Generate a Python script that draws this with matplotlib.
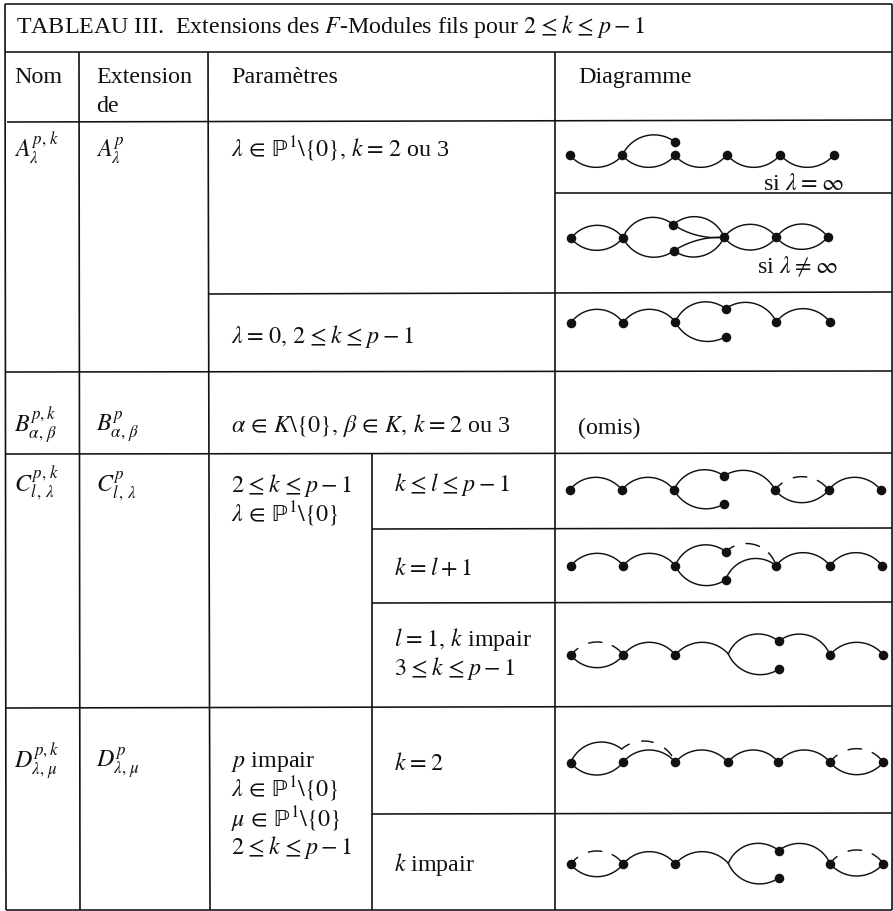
import numpy as np
import matplotlib
matplotlib.use("Agg")
import matplotlib.pyplot as plt

plt.rcParams['font.family'] = ['Liberation Serif', 'DejaVu Serif']
plt.rcParams['mathtext.fontset'] = 'stix'

INK = '#111111'
FS = 17.3
PP = r"\mathrm{\mathbb{P}}^{1}\backslash\{0\}"
HAIR = r"\hspace{0.07}"
LE = HAIR + r"\leq" + HAIR
IN = r"\,\in\,"
EQ = HAIR + "=" + HAIR
MINUS1 = r"p-1"

# --- table rules: (x0, y0, x1, y1)
H_RULES = [(5, 4, 892, 4), (5, 52, 892, 52), (7, 122, 892, 120), (208, 294, 892, 292),
           (555, 193, 892, 193), (5, 372, 892, 371), (5, 454, 892, 453),
           (372, 529, 892, 528), (372, 603, 892, 602), (5, 708, 892, 706),
           (372, 814, 892, 813), (6, 910, 892, 910)]
V_RULES = [(5, 4, 6, 910), (892, 4, 892, 910), (79, 52, 80, 910), (208, 52, 210, 910),
           (372, 454, 372, 910), (555, 52, 555, 910)]

# --- texts: (x, baseline y, string)
TEXTS = [
    (16, 33, rf"TABLEAU III.  Extensions des $F$-Modules fils pour $2{LE}k{LE}{MINUS1}$"),
    (14, 83, "Nom"), (96, 83, "Extension"), (96, 112, "de"),
    (231, 83, "Paramètres"), (578, 83, "Diagramme"),
    (14, 157, r"$A_{\lambda}^{p,\,k}$"), (96, 157, r"$A_{\lambda}^{p}$"),
    (231, 157, rf"$\lambda{IN}{PP},\, k{EQ}2$ ou 3"),
    (231, 343, rf"$\lambda{EQ}0,\, 2{LE}k{LE}{MINUS1}$"),
    (14, 432, r"$B_{\alpha,\,\beta}^{p,k}$"), (96, 432, r"$B_{\alpha,\,\beta}^{p}$"),
    (231, 432, rf"$\alpha{IN}K\backslash\{{0\}},\, \beta{IN}K,\, k{EQ}2$ ou 3"),
    (578, 434, "(omis)"),
    (14, 492, r"$C_{l\,,\,\lambda}^{p,\,k}$"), (96, 492, r"$C_{l\,,\,\lambda}^{p}$"),
    (231, 492, rf"$2{LE}k{LE}{MINUS1}$"),
    (231, 522, rf"$\lambda{IN}{PP}$"),
    (394, 491, rf"$k{LE}l{LE}{MINUS1}$"),
    (394, 575, rf"$k{EQ}l+1$"),
    (394, 646, rf"$l{EQ}1,\, k$ impair"),
    (394, 675, rf"$3{LE}k{LE}{MINUS1}$"),
    (14, 768, r"$D_{\lambda,\,\mu}^{p,k}$"), (96, 768, r"$D_{\lambda,\,\mu}^{p}$"),
    (231, 767, r"$p$ impair"),
    (231, 797, rf"$\lambda{IN}{PP}$"),
    (231, 827, rf"$\mu{IN}{PP}$"),
    (231, 854, rf"$2{LE}k{LE}{MINUS1}$"),
    (394, 770, rf"$k{EQ}2$"),
    (394, 871, r"$k$ impair"),
    (763, 190, rf"si $\lambda{EQ}\infty$"),
    (757, 273, rf"si $\lambda{HAIR}\neq{HAIR}\infty$"),
]

# --- diagrams, read at 3x scale from an origin (ox, oy)
# arcs: (x0, y0, xmid, ymid, x1, y1, dash windows or None)
D = [(0.05, 0.16), (0.36, 0.58), (0.76, 0.95)]

D1 = dict(origin=(520, 110),
          nodes=[(150,136),(307,136),(465,136),(621,134),(781,134),(942,134),(465,96)],
          arcs=[(150,136,228,172,307,136,None),(307,136,388,172,465,136,None),
                (465,136,543,172,621,134,None),(621,134,700,172,781,134,None),
                (781,134,862,172,942,134,None),(307,136,385,76,465,96,None)])
D2 = dict(origin=(520, 110),
          nodes=[(153,385),(309,383),(460,344),(462,422),(612,382),(769,382),(923,381)],
          arcs=[(153,385,230,346,309,383,None),(153,385,230,421,309,383,None),
                (309,383,385,323,460,344,None),(309,383,390,441,462,422,None),
                (460,344,525,320,612,382,None),(460,344,525,374,612,382,None),
                (462,422,525,441,612,382,None),(462,422,525,393,612,382,None),
                (612,382,690,343,769,382,None),(612,382,690,420,769,382,None),
                (769,382,846,342,923,381,None),(769,382,846,418,923,381,None)])
D3 = dict(origin=(520, 110),
          nodes=[(153,638),(309,638),(466,636),(617,596),(617,680),(769,636),(930,637)],
          arcs=[(153,638,230,598,309,638,None),(309,638,387,598,466,636,None),
                (466,636,535,578,617,596,None),(466,636,540,692,617,680,None),
                (617,596,690,578,769,636,None),(769,636,850,596,930,637,None)])
D4 = dict(origin=(520, 470),
          nodes=[(149,60),(306,60),(462,60),(612,18),(612,102),(765,60),(926,60),(1082,60)],
          arcs=[(149,60,228,22,306,60,None),(306,60,384,22,462,60,None),
                (462,60,535,1,612,18,None),(462,60,535,114,612,102,None),
                (612,18,690,3,765,60,None),(765,60,845,98,926,60,None),
                (765,60,845,20,926,60,D),(926,60,1005,22,1082,60,None)])
D5 = dict(origin=(520, 470),
          nodes=[(153,287),(310,287),(466,287),(617,245),(617,329),(768,287),(930,287),(1086,287)],
          arcs=[(153,287,232,250,310,287,None),(310,287,388,250,466,287,None),
                (466,287,540,226,617,245,None),(466,287,540,345,617,329,None),
                (617,329,690,267,768,287,None),(617,245,695,222,768,287,D),
                (768,287,848,248,930,287,None),(930,287,1008,248,1086,287,None)])
D6 = dict(origin=(520, 470),
          nodes=[(153,556),(310,555),(466,555),(776,514),(776,598),(930,555),(1090,555)],
          arcs=[(153,556,232,593,310,555,None),(153,556,232,516,310,555,D),
                (310,555,385,517,466,555,None),(466,555,545,517,625,552,None),
                (625,552,695,494,776,514,None),(625,552,700,612,776,598,None),
                (776,514,850,493,930,555,None),(930,555,1010,517,1090,555,None)])
D7 = dict(origin=(520, 700),
          nodes=[(152,188),(309,187),(466,187),(624,187),(775,187),(930,187),(1090,187)],
          arcs=[(152,188,230,225,309,187,None),(152,188,225,128,305,147,None),
                (305,147,385,124,466,187,[(0.0,0.14),(0.34,0.52),(0.72,0.88)]),
                (309,187,388,150,466,187,None),(466,187,545,150,624,187,None),
                (624,187,700,150,775,187,None),(775,187,853,150,930,187,None),
                (930,187,1010,224,1090,187,None),(930,187,1010,146,1090,187,D)])
D8 = dict(origin=(520, 700),
          nodes=[(152,493),(310,492),(466,492),(776,452),(776,534),(930,491),(1090,491)],
          arcs=[(152,493,230,530,310,492,None),(152,493,230,453,310,492,D),
                (310,492,388,455,466,492,None),(466,492,545,455,625,490,None),
                (625,490,695,432,776,452,None),(625,490,700,550,776,534,None),
                (776,452,850,431,930,491,None),(930,491,1010,528,1090,491,None),
                (930,491,1010,450,1090,491,D)])
DIAGRAMS = [D1, D2, D3, D4, D5, D6, D7, D8]


def circle_arc(p0, m, p1, t0=0.0, t1=1.0, n=40):
    """Points on the circle through p0, m and p1, for a fraction range of the sweep."""
    ax_, ay_ = p0
    bx, by = m
    cx, cy = p1
    d = 2 * (ax_ * (by - cy) + bx * (cy - ay_) + cx * (ay_ - by))
    ux = ((ax_**2 + ay_**2) * (by - cy) + (bx**2 + by**2) * (cy - ay_) + (cx**2 + cy**2) * (ay_ - by)) / d
    uy = ((ax_**2 + ay_**2) * (cx - bx) + (bx**2 + by**2) * (ax_ - cx) + (cx**2 + cy**2) * (bx - ax_)) / d
    r = np.hypot(ax_ - ux, ay_ - uy)
    a0 = np.arctan2(ay_ - uy, ax_ - ux)
    am = np.arctan2(by - uy, bx - ux)
    a1 = np.arctan2(cy - uy, cx - ux)
    ccw = (am - a0) % (2 * np.pi) < (a1 - a0) % (2 * np.pi)
    sweep = (a1 - a0) % (2 * np.pi) if ccw else -((a0 - a1) % (2 * np.pi))
    t = np.linspace(t0, t1, n)
    ang = a0 + sweep * t
    return np.column_stack([ux + r * np.cos(ang), uy + r * np.sin(ang)])


fig = plt.figure(figsize=(8.93, 9.11), dpi=100, facecolor='white')
ax = fig.add_axes([0, 0, 1, 1])
ax.set_xlim(0, 893)
ax.set_ylim(911, 0)
ax.axis('off')

for x0, y0, x1, y1 in H_RULES:
    ax.plot([x0, x1], [y0, y1], color=INK, lw=1.15, solid_capstyle='butt')
for x0, y0, x1, y1 in V_RULES:
    ax.plot([x0, x1], [y0, y1], color=INK, lw=1.2, solid_capstyle='butt')

for x, y, s in TEXTS:
    ax.text(x, y, s, fontsize=FS, color=INK, ha='left', va='baseline')

for d in DIAGRAMS:
    ox, oy = d['origin']
    to_px = lambda a, b: np.array([ox + a / 3, oy + b / 3])
    for x0, y0, xm, ym, x1, y1, dash in d['arcs']:
        p0, m, p1 = to_px(x0, y0), to_px(xm, ym), to_px(x1, y1)
        for t0, t1 in (dash if dash else [(0.0, 1.0)]):
            pts = circle_arc(p0, m, p1, t0, t1)
            ax.plot(pts[:, 0], pts[:, 1], color=INK, lw=1.05, solid_capstyle='round')
    nx = [ox + a / 3 for a, b in d['nodes']]
    ny = [oy + b / 3 for a, b in d['nodes']]
    ax.plot(nx, ny, ls='none', marker='o', ms=6.9, mfc=INK, mec=INK, mew=0)

fig.savefig('out.png', dpi=100, facecolor='white')
